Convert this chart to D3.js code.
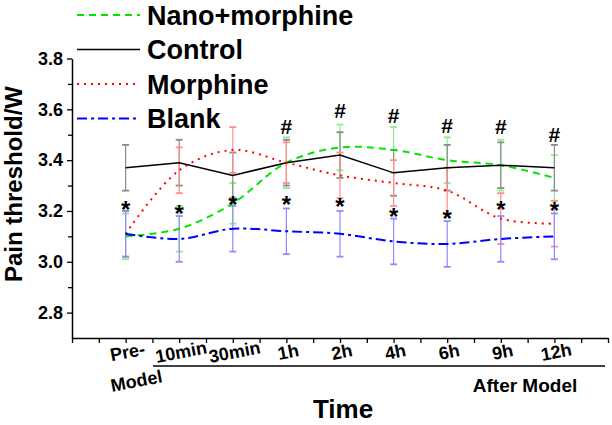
<!DOCTYPE html>
<html><head><meta charset="utf-8">
<script src="https://cdn.jsdelivr.net/npm/d3@7"></script>
<style>
html,body{margin:0;padding:0;background:#fff;}
text{font-family:"Liberation Sans",Arial,sans-serif;font-weight:bold;}
</style></head>
<body><svg id="c" width="612" height="425"></svg>
<script>
const categories = ["Pre-", "10min", "30min", "1h", "2h", "4h", "6h", "9h", "12h"];
const nanoMorphine = [3.10, 3.13, 3.23, 3.39, 3.45, 3.44, 3.40, 3.38, 3.33];
const control      = [3.37, 3.39, 3.34, 3.39, 3.42, 3.35, 3.37, 3.38, 3.37];
const morphine     = [3.11, 3.36, 3.44, 3.39, 3.34, 3.31, 3.28, 3.17, 3.15];
const blank        = [3.11, 3.09, 3.13, 3.12, 3.11, 3.08, 3.07, 3.09, 3.10];
const nanoErr      = [0.09, 0.09, 0.08, 0.10, 0.09, 0.09, 0.09, 0.10, 0.09];
const controlErr   = [0.09, 0.09, 0.09, 0.09, 0.09, 0.09, 0.09, 0.09, 0.09];
const morphineErr  = [0.09, 0.09, 0.09, 0.08, 0.09, 0.09, 0.09, 0.10, 0.09];
const blankErr     = [0.09, 0.09, 0.09, 0.09, 0.09, 0.09, 0.09, 0.09, 0.09];
const starLevel    = [3.229, 3.210, 3.248, 3.248, 3.241, 3.198, 3.193, 3.228, 3.224];
const hashLevel    = [null, null, null, 3.533, 3.596, 3.576, 3.537, 3.533, 3.501];
const yTicks = [2.8, 3.0, 3.2, 3.4, 3.6, 3.8];
const legendNames = ["Nano+morphine", "Control", "Morphine", "Blank"];

const svg = d3.select("#c");
const x = d3.scaleLinear().domain([0, 10]).range([72, 608]);
const y = d3.scaleLinear().domain([2.7, 3.8]).range([338, 58.5]);

const series = [
  {name: legendNames[0], v: nanoMorphine, e: nanoErr, color: "#00e600", err: "#8cf08c", dash: "7,5", w: 2, curve: d3.curveCatmullRom},
  {name: legendNames[1], v: control, e: controlErr, color: "#000000", err: "#8a8a8a", dash: null, w: 1.5, curve: d3.curveLinear},
  {name: legendNames[2], v: morphine, e: morphineErr, color: "#ff0000", err: "#ff8c8c", dash: "2,5", w: 2, curve: d3.curveCatmullRom},
  {name: legendNames[3], v: blank, e: blankErr, color: "#0000ff", err: "#8c8cff", dash: "10,4,3,4", w: 2, curve: d3.curveCatmullRom}
];

// error bars
series.forEach(s => {
  const g = svg.append("g").attr("stroke", s.err).attr("stroke-width", 1.2).attr("fill", "none");
  s.v.forEach((v, i) => {
    const cx = x(i + 1), t = y(v + s.e[i]), b = y(v - s.e[i]);
    g.append("line").attr("x1", cx).attr("x2", cx).attr("y1", t).attr("y2", b);
    g.append("line").attr("x1", cx - 3.5).attr("x2", cx + 3.5).attr("y1", t).attr("y2", t).attr("stroke-width", 1.8);
    g.append("line").attr("x1", cx - 3.5).attr("x2", cx + 3.5).attr("y1", b).attr("y2", b).attr("stroke-width", 1.8);
  });
});

// lines
series.forEach(s => {
  const line = d3.line().x((d, i) => x(i + 1)).y(d => y(d)).curve(s.curve);
  svg.append("path").datum(s.v).attr("d", line).attr("fill", "none")
    .attr("stroke", s.color).attr("stroke-width", s.w)
    .attr("stroke-dasharray", s.dash);
});

// axes
const xAxis = d3.axisBottom(x).tickValues(d3.range(0, 10.01, 0.5)).tickFormat("").tickSize(5).tickSizeOuter(0);
const gx = svg.append("g").attr("transform", "translate(0,338)").call(xAxis);
gx.select(".domain").attr("stroke", "#000").attr("stroke-width", 1.5);
gx.selectAll(".tick line").attr("stroke", "#000").attr("stroke-width", 1.3);

const yMinor = d3.axisLeft(y).tickValues([2.9, 3.1, 3.3, 3.5, 3.7]).tickFormat("").tickSize(4).tickSizeOuter(0);
svg.append("g").attr("transform", "translate(72,0)").call(yMinor)
  .call(g => g.select(".domain").remove())
  .selectAll(".tick line").attr("stroke", "#000").attr("stroke-width", 1.3);
const yAxis = d3.axisLeft(y).tickValues(yTicks).tickFormat(d3.format(".1f")).tickSize(5).tickSizeOuter(0).tickPadding(4);
const gy = svg.append("g").attr("transform", "translate(72,0)").call(yAxis);
gy.select(".domain").attr("stroke", "#000").attr("stroke-width", 1.5);
gy.selectAll(".tick line").attr("stroke", "#000").attr("stroke-width", 1.3);
gy.selectAll(".tick text").attr("font-size", 18).attr("fill", "#000")
  .attr("font-family", "'Liberation Sans',Arial,sans-serif").attr("font-weight", "bold");

// category labels
svg.append("g").selectAll("text").data(categories).join("text")
  .attr("transform", (d, i) => `translate(${x(i + 1) + 3},358) rotate(-11)`)
  .attr("text-anchor", "middle").attr("font-size", 18).text(d => d);
svg.append("text").attr("transform", `translate(${x(1) + 12},387) rotate(-11)`)
  .attr("text-anchor", "middle").attr("font-size", 18).text("Model");
svg.append("line").attr("x1", 153).attr("x2", 605).attr("y1", 366).attr("y2", 366)
  .attr("stroke", "#000").attr("stroke-width", 1.5);
svg.append("text").attr("x", 525).attr("y", 392).attr("text-anchor", "middle")
  .attr("font-size", 19).text("After Model");

// axis titles
svg.append("text").attr("x", 343).attr("y", 418).attr("text-anchor", "middle")
  .attr("font-size", 26).text("Time");
svg.append("text").attr("transform", "translate(22,184) rotate(-90)")
  .attr("text-anchor", "middle").attr("font-size", 24).text("Pain threshold/W");

// stars and hashes
svg.append("g").selectAll("text").data(starLevel).join("text")
  .attr("x", (d, i) => x(i + 1)).attr("y", d => y(d) + 14)
  .attr("text-anchor", "middle").attr("font-size", 24).text("*");
svg.append("g").selectAll("text").data(hashLevel.map((d, i) => ({d, i})).filter(o => o.d !== null)).join("text")
  .attr("x", o => x(o.i + 1)).attr("y", o => y(o.d) + 7.5)
  .attr("text-anchor", "middle").attr("font-size", 21).text("#");

// legend
const legY = [15, 49.5, 84, 118.5];
series.forEach((s, i) => {
  svg.append("line").attr("x1", 77).attr("x2", 140).attr("y1", legY[i]).attr("y2", legY[i])
    .attr("stroke", s.color).attr("stroke-width", s.w).attr("stroke-dasharray", s.dash);
  svg.append("text").attr("x", 147).attr("y", legY[i] + 9.5).attr("font-size", 27).text(s.name);
});
</script></body></html>
